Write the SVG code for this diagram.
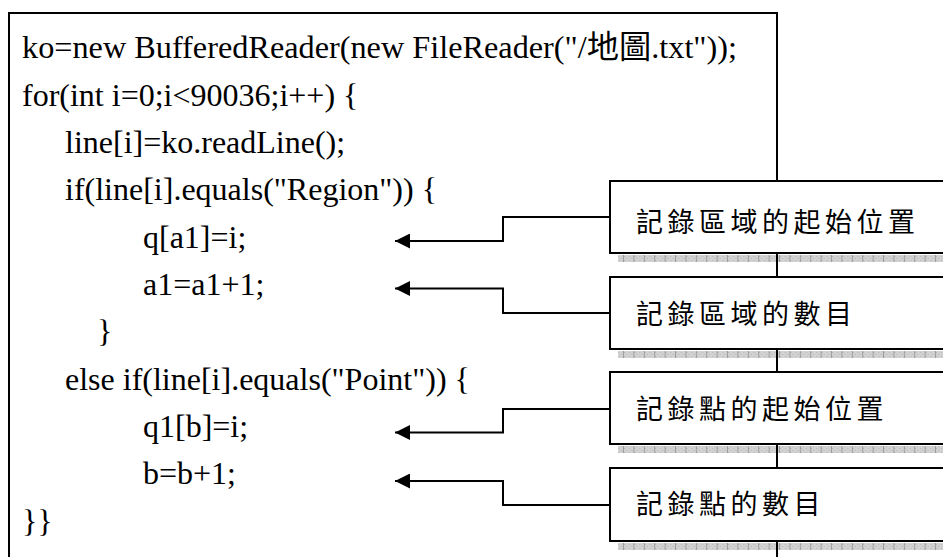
<svg xmlns="http://www.w3.org/2000/svg" width="943" height="557" viewBox="0 0 943 557">
<defs>
<style>
.code{font-family:"Liberation Serif","Noto Sans CJK TC",serif;font-size:32px;fill:#000}
.note{font-family:"Noto Sans CJK TC","Noto Sans CJK JP",sans-serif;font-size:27px;letter-spacing:4.5px;fill:#000}
.frame{fill:none;stroke:#000;stroke-width:2}
.box{fill:#fff;stroke:#000;stroke-width:2}
.conn{fill:none;stroke:#000;stroke-width:2}
.shadow{fill:url(#shade)}
</style>
<pattern id="shade" x="0" y="0" width="10.4" height="4" patternUnits="userSpaceOnUse">
<rect width="10.4" height="4" fill="#d2d2d2"/>
<rect x="0" y="0" width="1" height="1" fill="#b4b4b4"/>
<rect x="2" y="2" width="1" height="1" fill="#b4b4b4"/>
<rect x="5" y="0" width="1" height="1" fill="#b4b4b4"/>
<rect x="7" y="2" width="1" height="1" fill="#b4b4b4"/>
<rect x="9.4" y="0" width="1" height="4" fill="#9c9c9c"/>
</pattern>
<marker id="arrow" viewBox="0 0 15 15" refX="15" refY="7.5" markerWidth="15" markerHeight="15" markerUnits="userSpaceOnUse" orient="auto">
<path d="M0,0 L15,7.5 L0,15 Z" fill="#000"/>
</marker>
</defs>
<rect width="943" height="557" fill="#fff"/>
<g id="shadows">
<rect class="shadow" x="618" y="255" width="325" height="7"/>
<rect class="shadow" x="618" y="351" width="325" height="7"/>
<rect class="shadow" x="618" y="446" width="325" height="7"/>
<rect class="shadow" x="618" y="543" width="325" height="7"/>
</g>
<g id="code-block">
<rect class="frame" x="9" y="13" width="768" height="560"/>
<text class="code" x="22" y="58" textLength="715" lengthAdjust="spacingAndGlyphs">ko=new BufferedReader(new FileReader("/地圖.txt"));</text>
<text class="code" x="22" y="106">for(int i=0;i&lt;90036;i++) {</text>
<text class="code" x="65" y="153">line[i]=ko.readLine();</text>
<text class="code" x="65" y="200">if(line[i].equals("Region")) {</text>
<text class="code" x="143" y="248">q[a1]=i;</text>
<text class="code" x="143" y="295">a1=a1+1;</text>
<text class="code" x="97" y="342">}</text>
<text class="code" x="65" y="390">else if(line[i].equals("Point")) {</text>
<text class="code" x="143" y="437">q1[b]=i;</text>
<text class="code" x="143" y="484">b=b+1;</text>
<text class="code" x="22" y="532">}}</text>
</g>
<g id="connectors">
<path class="conn" d="M610,217 H503 V241 H395" marker-end="url(#arrow)"/>
<path class="conn" d="M610,313 H503 V288.5 H395" marker-end="url(#arrow)"/>
<path class="conn" d="M610,409 H503 V432.5 H395" marker-end="url(#arrow)"/>
<path class="conn" d="M610,505 H503 V481 H395" marker-end="url(#arrow)"/>
</g>
<g id="note-region-start">
<rect class="box" x="610" y="181" width="340" height="72"/>
<text class="note" x="636" y="232">記錄區域的起始位置</text>
</g>
<g id="note-region-count">
<rect class="box" x="610" y="277" width="340" height="72"/>
<text class="note" x="636" y="324">記錄區域的數目</text>
</g>
<g id="note-point-start">
<rect class="box" x="610" y="372" width="340" height="72"/>
<text class="note" x="636" y="419">記錄點的起始位置</text>
</g>
<g id="note-point-count">
<rect class="box" x="610" y="468" width="340" height="73"/>
<text class="note" x="636" y="514">記錄點的數目</text>
</g>
</svg>
